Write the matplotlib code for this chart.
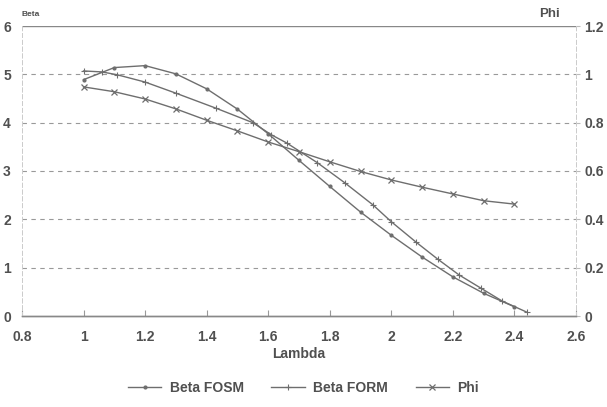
import numpy as np
import matplotlib
matplotlib.use('Agg')
import matplotlib.pyplot as plt

plt.rcParams['font.family'] = ['Liberation Sans', 'DejaVu Sans']
plt.rcParams['font.weight'] = 'bold'

# Beta FOSM
lam_fosm = [1.0, 1.1, 1.2, 1.3, 1.4, 1.5, 1.6, 1.7, 1.8, 1.9, 2.0, 2.1, 2.2, 2.3, 2.4]
beta_fosm = [4.89, 5.14, 5.18, 5.01, 4.70, 4.28, 3.77, 3.22, 2.68, 2.15, 1.67, 1.22, 0.81, 0.47, 0.19]

# Beta FORM
lam_form = [1.0, 1.06, 1.11, 1.2, 1.3, 1.43, 1.55, 1.61, 1.66, 1.76, 1.85, 1.94,
            2.0, 2.08, 2.15, 2.22, 2.29, 2.36, 2.44]
beta_form = [5.07, 5.05, 4.99, 4.84, 4.61, 4.30, 4.00, 3.75, 3.58, 3.17, 2.75, 2.30,
             1.95, 1.53, 1.18, 0.85, 0.58, 0.31, 0.08]

# Phi (right axis)
lam_phi = [1.0, 1.1, 1.2, 1.3, 1.4, 1.5, 1.6, 1.7, 1.8, 1.9, 2.0, 2.1, 2.2, 2.3, 2.4]
phi = [0.948, 0.928, 0.898, 0.857, 0.810, 0.766, 0.720, 0.680, 0.638, 0.598,
       0.563, 0.533, 0.505, 0.477, 0.463]

xticks = [0.8, 1, 1.2, 1.4, 1.6, 1.8, 2, 2.2, 2.4, 2.6]
xlabels = ['0.8', '1', '1.2', '1.4', '1.6', '1.8', '2', '2.2', '2.4', '2.6']
yticks = [0, 1, 2, 3, 4, 5, 6]
phiticks = [0, 0.2, 0.4, 0.6, 0.8, 1.0, 1.2]
philabels = ['0', '0.2', '0.4', '0.6', '0.8', '1', '1.2']

lc = '#6e6e6e'
tc = '#505050'

fig = plt.figure(figsize=(6.07, 4.07), dpi=100)
ax = fig.add_axes([22/607, 1-316/407, (576-22)/607, (316-26)/407])
ax2 = ax.twinx()

l1, = ax.plot(lam_fosm, beta_fosm, color=lc, lw=1.0, marker='.', ms=4, label='Beta FOSM')
l2, = ax.plot(lam_form, beta_form, color=lc, lw=1.0, marker='+', ms=5, mew=0.8, label='Beta FORM')
l3, = ax2.plot(lam_phi, phi, color=lc, lw=1.0, marker='x', ms=5, mew=0.9, label='Phi')

ax.set_xlim(0.8, 2.6)
ax.set_ylim(0, 6)
ax2.set_ylim(0, 1.2)

ax.set_xticks(xticks)
ax.set_xticklabels(xlabels)
ax.set_yticks(yticks)
ax2.set_yticks(phiticks)
ax2.set_yticklabels(philabels)

for y in [1, 2, 3, 4, 5]:
    ax.axhline(y, color='#999999', lw=0.8, ls=(0, (4, 4)), zorder=0)
ax.axhline(6, color='#888888', lw=1.0, zorder=0)

for a in (ax, ax2):
    a.spines['top'].set_visible(False)
    a.spines['left'].set_color('#cccccc')
    a.spines['left'].set_linestyle((0, (4, 3)))
    a.spines['left'].set_linewidth(0.7)
    a.spines['right'].set_color('#cccccc')
    a.spines['right'].set_linestyle((0, (4, 3)))
    a.spines['right'].set_linewidth(0.7)
    a.spines['bottom'].set_color('#888888')
    a.spines['bottom'].set_linewidth(1.0)

ax.tick_params(axis='x', direction='in', length=4, color='#999999', labelsize=10,
               labelcolor=tc, pad=10)
ax.tick_params(axis='y', length=0, labelsize=10, labelcolor=tc, pad=8)
ax2.tick_params(axis='y', direction='out', length=3, color='#bbbbbb', labelsize=10,
                labelcolor=tc, pad=3)

ax.set_xlabel('Lambda', fontsize=10, color=tc, fontweight='bold', labelpad=2)
fig.text(22/607, 1-14/407, 'Beta', fontsize=6, color=tc, ha='left', va='center')
fig.text(560/607, 1-14/407, 'Phi', fontsize=9.5, color=tc, ha='right', va='center')

fig.legend(handles=[l1, l2, l3], loc='center', bbox_to_anchor=(0.5, 1-388/407),
           ncol=3, frameon=False, fontsize=10, labelcolor=tc, handlelength=2.4,
           columnspacing=2.0, handletextpad=0.6)

fig.savefig('out.png', dpi=100)
